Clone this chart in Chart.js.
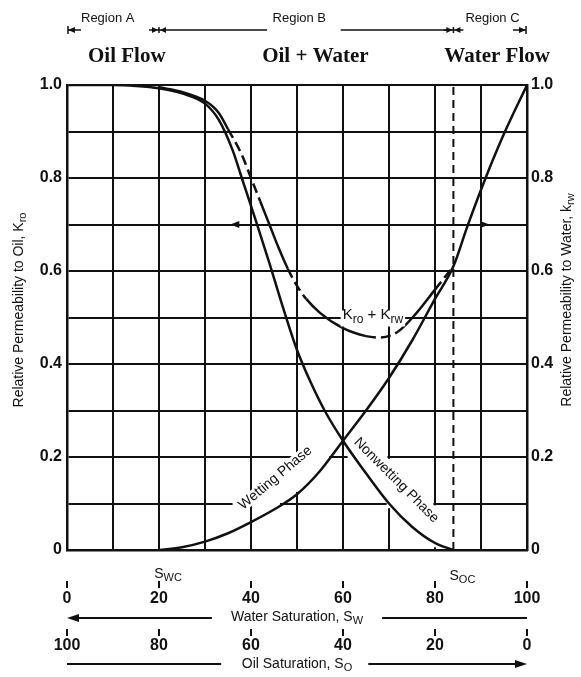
<!DOCTYPE html>
<html>
<head>
<meta charset="utf-8">
<script src="https://cdn.jsdelivr.net/npm/chart.js@4.4.1/dist/chart.umd.min.js"></script>
<style>
  html, body { margin: 0; padding: 0; background: #fff; }
  #wrap { width: 581px; height: 677px; }
</style>
</head>
<body>
<div id="wrap"><canvas id="chart" width="581" height="677"></canvas></div>
<script>
/* ==========================================================================
   Relative permeability curves - oil / water
   ========================================================================== */

// Oil (nonwetting phase) relative permeability vs water saturation
const kroSw   = [0, 10, 15, 20, 25, 30, 33, 36, 38, 41, 44, 47, 50, 53, 56, 60, 65, 70, 75, 80, 84];
const kroVals = [1.0, 1.0, 0.998, 0.993, 0.982, 0.96, 0.925, 0.86, 0.8, 0.71, 0.617, 0.52, 0.43, 0.36, 0.3, 0.235, 0.165, 0.1, 0.05, 0.015, 0];

// Water (wetting phase) relative permeability vs water saturation
const krwSw   = [20, 25, 30, 35, 40, 45, 50, 55, 60, 65, 70, 75, 80, 84, 87, 91, 95, 100];
const krwVals = [0, 0.006, 0.018, 0.036, 0.06, 0.087, 0.12, 0.17, 0.235, 0.3, 0.37, 0.45, 0.54, 0.61, 0.695, 0.8, 0.895, 1.0];

// Kro + Krw
const sumSw   = [20, 25, 30, 33, 35, 38, 40, 42, 44, 46, 48, 50, 52, 55, 60, 65, 68, 72, 76, 80, 84];
const sumVals = [0.995, 0.985, 0.966, 0.94, 0.905, 0.85, 0.8, 0.75, 0.7, 0.65, 0.605, 0.568, 0.54, 0.51, 0.477, 0.46, 0.457, 0.47, 0.51, 0.56, 0.61];

// critical saturations (dashed verticals)
const swc = 20;
const soc = 84;

// axis labels
const waterTicks = [0, 20, 40, 60, 80, 100];
const oilTicks   = [100, 80, 60, 40, 20, 0];

// stretches of the Kro + Krw curve that are drawn dashed
const dashedRanges = [[34, 42], [48, 51], [63, 72], [77, 84]];

// bits of the printed grid that are blank in the original figure
// [sw1, sw2, kr1, kr2]
const gridGaps = [
    [50.35, 57, 0.19, 0.21],
    [61, 69.65, 0.19, 0.21],
    [49.5, 50.5, 0.125, 0.196],
    [69.5, 70.5, 0.09, 0.196],
    [36, 39.65, 0.09, 0.11],
    [40.35, 46.3, 0.09, 0.11],
    [70.35, 79.65, 0.09, 0.11],
    [79.5, 80.5, 0.006, 0.096]
];

const INK = '#111';
const SANS = '"Liberation Sans", Arial, sans-serif';

function toPoints(xs, ys) {
    return xs.map((x, i) => ({ x: x, y: ys[i] }));
}

function isDashed(x) {
    return dashedRanges.some(r => x >= r[0] && x < r[1]);
}

/* ---------- text helpers ---------- */

// parts: [[text, isSub], ...]
function subWidth(ctx, parts, size) {
    let w = 0;
    parts.forEach(p => {
        ctx.font = (p[1] ? Math.round(size * 0.8) : size) + 'px ' + SANS;
        w += ctx.measureText(p[0]).width;
    });
    return w;
}

function drawSub(ctx, parts, x, y, size, align) {
    const total = subWidth(ctx, parts, size);
    let cx = align === 'center' ? x - total / 2 : x;
    ctx.textAlign = 'left';
    ctx.textBaseline = 'middle';
    parts.forEach(p => {
        const sz = p[1] ? Math.round(size * 0.8) : size;
        ctx.font = sz + 'px ' + SANS;
        ctx.fillText(p[0], cx, p[1] ? y + size * 0.3 : y);
        cx += ctx.measureText(p[0]).width;
    });
    return total;
}

function arrowHead(ctx, x, y, dir, len, half) {
    ctx.beginPath();
    ctx.moveTo(x, y);
    ctx.lineTo(x - dir * len, y - half);
    ctx.lineTo(x - dir * len, y + half);
    ctx.closePath();
    ctx.fill();
}

function hLine(ctx, x1, x2, y, w) {
    ctx.lineWidth = w;
    ctx.beginPath();
    ctx.moveTo(x1, y);
    ctx.lineTo(x2, y);
    ctx.stroke();
}

function vLine(ctx, x, y1, y2, w) {
    ctx.lineWidth = w;
    ctx.beginPath();
    ctx.moveTo(x, y1);
    ctx.lineTo(x, y2);
    ctx.stroke();
}

// rotated label on a white strip
function curveLabel(ctx, text, x, y, deg, size) {
    ctx.save();
    ctx.translate(x, y);
    ctx.rotate(deg * Math.PI / 180);
    ctx.font = size + 'px ' + SANS;
    const w = ctx.measureText(text).width;
    ctx.fillStyle = '#fff';
    ctx.fillRect(-w / 2 - 2, -size * 0.45, w + 4, size * 0.9);
    ctx.fillStyle = INK;
    ctx.textAlign = 'center';
    ctx.textBaseline = 'middle';
    ctx.fillText(text, 0, 0);
    ctx.restore();
}

/* ---------- grid gaps (drawn over the scale grid, under the curves) ---------- */

const gridEraser = {
    id: 'gridEraser',
    beforeDatasetsDraw(chart) {
        const ctx = chart.ctx;
        const xs = chart.scales.x;
        const ys = chart.scales.y;
        ctx.save();
        ctx.fillStyle = '#fff';
        gridGaps.forEach(g => {
            const x1 = xs.getPixelForValue(g[0]);
            const x2 = xs.getPixelForValue(g[1]);
            const y1 = ys.getPixelForValue(g[3]);
            const y2 = ys.getPixelForValue(g[2]);
            ctx.fillRect(x1, y1, x2 - x1, y2 - y1);
        });
        ctx.restore();
    }
};

/* ---------- annotation plugin ---------- */

const annotations = {
    id: 'annotations',
    afterDraw(chart) {
        const ctx = chart.ctx;
        const xs = chart.scales.x;
        const ys = chart.scales.y;
        const X = v => xs.getPixelForValue(v);
        const Y = v => ys.getPixelForValue(v);

        ctx.save();
        ctx.fillStyle = INK;
        ctx.strokeStyle = INK;

        // arrows on the 0.7 line
        arrowHead(ctx, X(35.5), Y(0.7), -1, 9, 3.5);
        arrowHead(ctx, X(91.8), Y(0.7), 1, 9, 3.5);

        // region bar on top
        const ry = 30;
        const x0 = X(0), xa = X(swc), xc = X(soc), x1 = X(100);
        ctx.font = '13px ' + SANS;
        ctx.textBaseline = 'middle';
        ctx.textAlign = 'left';
        ctx.fillText('Region A', x0 + 14, 18);
        ctx.textAlign = 'center';
        ctx.fillText('Region B', X(50.5), 18);
        ctx.fillText('Region C', X(92.5), 18);

        vLine(ctx, x0 + 1, ry - 4, ry + 4, 1.5);
        hLine(ctx, x0 + 1, x0 + 14, ry, 1.5);
        arrowHead(ctx, x0 + 1, ry, -1, 7, 3);

        hLine(ctx, xa - 10, xa + 10, ry, 1.5);
        arrowHead(ctx, xa - 1, ry, 1, 6, 3);
        arrowHead(ctx, xa + 1, ry, -1, 6, 3);
        vLine(ctx, xa, ry - 3, ry + 3, 1.5);
        hLine(ctx, xa + 10, X(43.5), ry, 1.5);
        hLine(ctx, X(59.5), xc - 2, ry, 1.5);

        hLine(ctx, xc - 10, xc + 10, ry, 1.5);
        arrowHead(ctx, xc - 1, ry, 1, 6, 3);
        arrowHead(ctx, xc + 1, ry, -1, 6, 3);
        vLine(ctx, xc, ry - 3, ry + 3, 1.5);

        hLine(ctx, x1 - 14, x1 - 1, ry, 1.5);
        arrowHead(ctx, x1 - 1, ry, 1, 7, 3);
        vLine(ctx, x1 - 1, ry - 4, ry + 4, 1.5);

        // flow headings
        ctx.font = 'bold 21px "Liberation Serif", "DejaVu Serif", serif';
        ctx.textAlign = 'center';
        ctx.fillText('Oil Flow', X(13), 57);
        ctx.fillText('Oil + Water', X(54), 57);
        ctx.fillText('Water Flow', X(93.5), 57);

        // curve labels
        curveLabel(ctx, 'Wetting Phase', X(45.3), Y(0.155), -40, 14);
        curveLabel(ctx, 'Nonwetting Phase', X(71.6), Y(0.15), 45, 14);

        // Kro + Krw label
        ctx.font = '15px ' + SANS;
        const kw = subWidth(ctx, [['K', false], ['ro', true], [' + K', false], ['rw', true]], 15);
        ctx.fillStyle = '#fff';
        ctx.fillRect(X(66.5) - kw / 2 - 2, Y(0.5) - 7, kw + 4, 16);
        ctx.fillStyle = INK;
        drawSub(ctx, [['K', false], ['ro', true], [' + K', false], ['rw', true]], X(66.5), Y(0.505), 15, 'center');

        // axis titles
        ctx.save();
        ctx.translate(19, 310);
        ctx.rotate(-Math.PI / 2);
        drawSub(ctx, [['Relative Permeability to Oil, K', false], ['ro', true]], 0, 0, 14, 'center');
        ctx.restore();

        ctx.save();
        ctx.translate(567, 300);
        ctx.rotate(-Math.PI / 2);
        drawSub(ctx, [['Relative Permeability to Water, k', false], ['rw', true]], 0, 0, 14, 'center');
        ctx.restore();

        // critical saturation labels
        drawSub(ctx, [['S', false], ['WC', true]], X(swc) + 9, 574, 14, 'center');
        drawSub(ctx, [['S', false], ['OC', true]], X(soc) + 9, 576, 14, 'center');

        // water saturation scale
        ctx.font = 'bold 16px ' + SANS;
        ctx.textAlign = 'center';
        ctx.textBaseline = 'middle';
        waterTicks.forEach(v => {
            vLine(ctx, X(v), 581, 588, 2);
            ctx.font = 'bold 16px ' + SANS;
            ctx.textAlign = 'center';
            ctx.fillText(String(v), X(v), 599);
        });
        drawSub(ctx, [['Water Saturation, S', false], ['W', true]], X(50), 617, 14, 'center');
        hLine(ctx, x0 + 6, X(31.5), 618, 2.2);
        arrowHead(ctx, x0, 618, -1, 12, 4);
        hLine(ctx, X(68.5), x1, 618, 2.2);

        // oil saturation scale
        oilTicks.forEach(v => {
            vLine(ctx, X(100 - v), 629, 636, 2);
            ctx.font = 'bold 16px ' + SANS;
            ctx.textAlign = 'center';
            ctx.fillText(String(v), X(100 - v), 646);
        });
        drawSub(ctx, [['Oil Saturation, S', false], ['O', true]], X(50), 664, 14, 'center');
        hLine(ctx, x0, X(33.5), 664, 2.2);
        hLine(ctx, X(65.5), x1 - 6, 664, 2.2);
        arrowHead(ctx, x1, 664, 1, 12, 4);

        ctx.restore();
    }
};

/* ---------- chart ---------- */

const lineStyle = {
    borderColor: INK,
    borderWidth: 2.5,
    pointRadius: 0,
    fill: false,
    cubicInterpolationMode: 'monotone'
};

const axisTickLabel = v => {
    const n = Math.round(v * 10);
    if (n % 2 !== 0) return '';
    return n === 0 ? '0' : (n / 10).toFixed(1);
};

const tickFont = { family: SANS, size: 16, weight: 'bold' };

new Chart(document.getElementById('chart').getContext('2d'), {
    type: 'line',
    data: {
        datasets: [
            Object.assign({ label: 'Kro', data: toPoints(kroSw, kroVals) }, lineStyle),
            Object.assign({ label: 'Krw', data: toPoints(krwSw, krwVals) }, lineStyle),
            Object.assign({
                label: 'Kro + Krw',
                data: toPoints(sumSw, sumVals),
                segment: {
                    borderDash: c => isDashed(c.p0.parsed.x) ? [10, 5] : undefined
                }
            }, lineStyle),
            {
                label: 'Swc',
                data: [{ x: swc, y: 0 }, { x: swc, y: 1 }],
                borderColor: INK, borderWidth: 2, borderDash: [8, 5], pointRadius: 0
            },
            {
                label: 'Soc',
                data: [{ x: soc, y: 0 }, { x: soc, y: 1 }],
                borderColor: INK, borderWidth: 2, borderDash: [8, 5], pointRadius: 0
            }
        ]
    },
    options: {
        responsive: false,
        animation: false,
        layout: { padding: { top: 85, bottom: 127, left: 0, right: 0 } },
        plugins: {
            legend: { display: false },
            tooltip: { enabled: false }
        },
        scales: {
            x: {
                type: 'linear',
                min: 0,
                max: 100,
                ticks: { stepSize: 10, display: false },
                grid: { color: INK, lineWidth: 2, drawTicks: false },
                border: { color: INK, width: 2.5 },
                afterFit: s => { s.height = 0; }
            },
            y: {
                position: 'left',
                min: 0,
                max: 1,
                ticks: {
                    stepSize: 0.1,
                    autoSkip: false,
                    padding: 5,
                    color: INK,
                    font: tickFont,
                    callback: axisTickLabel
                },
                grid: { color: INK, lineWidth: 2, drawTicks: false },
                border: { color: INK, width: 2.5 },
                afterFit: s => { s.width = 67; }
            },
            y2: {
                position: 'right',
                min: 0,
                max: 1,
                ticks: {
                    stepSize: 0.1,
                    autoSkip: false,
                    padding: 4,
                    color: INK,
                    font: tickFont,
                    callback: axisTickLabel
                },
                grid: { display: false, drawTicks: false },
                border: { color: INK, width: 2.5 },
                afterFit: s => { s.width = 54; }
            }
        }
    },
    plugins: [gridEraser, annotations]
});
</script>
</body>
</html>
